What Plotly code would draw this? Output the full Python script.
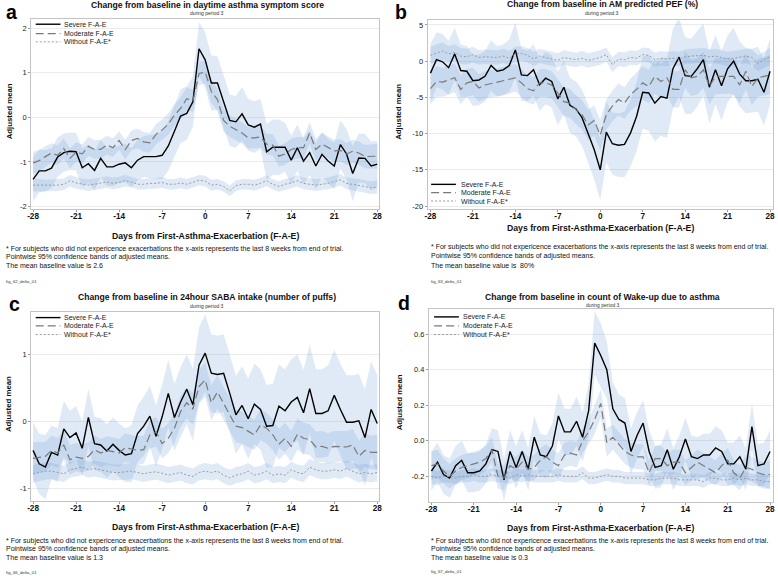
import plotly.graph_objects as go

W, H = 778, 578

# ---------------- data ----------------
days = list(range(-28, 29))
x_tick_vals = [-28, -21, -14, -7, 0, 7, 14, 21, 28]
x_tick_labels = ["-28", "-21", "-14", "-7", "0", "7", "14", "21", "28"]
series_names = ["Severe F-A-E", "Moderate F-A-E", "Without F-A-E*"]

# panel a: daytime asthma symptom score
a_severe = [-1.39, -1.20, -1.20, -1.14, -0.89, -0.79, -0.76, -0.77, -1.13, -1.04,
            -1.19, -0.92, -1.11, -1.11, -1.05, -1.02, -1.13, -0.96, -0.88, -0.88,
            -0.88, -0.85, -0.64, -0.31, 0.03, 0.09, 0.35, 1.54,
            1.29,
            0.77, 0.77, 0.35, -0.07, -0.10, 0.08, -0.17, -0.22, -0.15, -0.77,
            -0.67, -0.67, -0.67, -0.96, -0.68, -0.98, -0.79, -1.09, -0.83, -0.98,
            -1.09, -0.61, -0.82, -1.26, -0.91, -0.92, -1.09, -1.05]
a_moderate = [-1.02, -0.97, -0.88, -0.80, -0.85, -0.70, -0.92, -0.78, -0.82, -0.65,
              -0.72, -0.72, -0.62, -0.68, -0.52, -0.72, -0.52, -0.47, -0.55, -0.57,
              -0.38, -0.28, -0.15, 0.05, 0.20, 0.42, 0.37, 0.98,
              1.02,
              0.58, 0.40, -0.07, -0.20, -0.27, -0.35, -0.46, -0.46, -0.44, -0.60,
              -0.62, -0.87, -0.82, -0.72, -0.68, -0.68, -0.35, -0.72, -0.60, -0.68,
              -0.75, -0.74, -0.82, -0.76, -0.80, -0.88, -0.88, -0.87]
a_without = [-1.52, -1.52, -1.53, -1.52, -1.52, -1.50, -1.42, -1.47, -1.50, -1.52,
             -1.50, -1.48, -1.45, -1.48, -1.46, -1.42, -1.45, -1.50, -1.50, -1.48,
             -1.48, -1.46, -1.50, -1.50, -1.47, -1.50, -1.46, -1.41,
             -1.43,
             -1.52, -1.50, -1.55, -1.65, -1.53, -1.50, -1.50, -1.52, -1.48, -1.42,
             -1.50, -1.55, -1.50, -1.47, -1.42, -1.48, -1.50, -1.52, -1.50, -1.48,
             -1.44, -1.40, -1.48, -1.50, -1.52, -1.55, -1.58, -1.56]
a_severe_hw = [0.50, 0.48, 0.46, 0.45, 0.44, 0.43, 0.42, 0.42, 0.44, 0.43,
               0.44, 0.42, 0.43, 0.43, 0.42, 0.43, 0.44, 0.45, 0.46, 0.48,
               0.50, 0.54, 0.56, 0.58, 0.60, 0.60, 0.56, 0.60,
               0.62,
               0.62, 0.60, 0.60, 0.58, 0.58, 0.60, 0.58, 0.58, 0.56, 0.62,
               0.62, 0.62, 0.55, 0.55, 0.52, 0.52, 0.50, 0.52, 0.50, 0.50,
               0.52, 0.54, 0.56, 0.62, 0.55, 0.55, 0.55, 0.52]
a_moderate_hw = [0.25, 0.24, 0.23, 0.22, 0.22, 0.22, 0.22, 0.22, 0.21, 0.21,
                 0.21, 0.21, 0.21, 0.21, 0.21, 0.22, 0.22, 0.22, 0.22, 0.22,
                 0.23, 0.23, 0.24, 0.24, 0.25, 0.25, 0.25, 0.26,
                 0.26,
                 0.26, 0.25, 0.25, 0.24, 0.24, 0.24, 0.24, 0.24, 0.24, 0.24,
                 0.24, 0.24, 0.24, 0.24, 0.24, 0.24, 0.24, 0.24, 0.25, 0.25,
                 0.25, 0.25, 0.25, 0.26, 0.26, 0.26, 0.27, 0.28]
a_without_hw = [0.14, 0.14, 0.13, 0.13, 0.13, 0.13, 0.13, 0.13, 0.13, 0.13,
                0.13, 0.13, 0.13, 0.13, 0.13, 0.13, 0.12, 0.12, 0.12, 0.12,
                0.12, 0.12, 0.12, 0.12, 0.12, 0.12, 0.12, 0.12,
                0.12,
                0.12, 0.12, 0.12, 0.12, 0.12, 0.12, 0.12, 0.12, 0.12, 0.12,
                0.12, 0.12, 0.12, 0.12, 0.13, 0.13, 0.13, 0.13, 0.13, 0.13,
                0.13, 0.13, 0.13, 0.14, 0.14, 0.14, 0.14, 0.15]

# panel b: AM predicted PEF (%)
b_severe = [-1.65, 0.2, -0.1, -0.9, 1.0, -1.3, -1.4, -2.7, -2.6, -2.1,
            -0.6, -1.4, -1.2, -0.6, 1.55, -1.9, -2.0, -1.2, -3.25, -2.35,
            -2.8, -5.2, -3.6, -6.1, -6.6, -7.8, -10.0, -12.2,
            -15.0,
            -9.8, -11.4, -11.6, -11.5, -9.9, -7.6, -4.3, -4.4, -5.8, -4.9,
            -5.1, -1.0, 0.55, -2.0, -2.1, -1.05, 0.2, -3.6, -1.2, -3.4,
            -1.05, 0.0, -1.8, -2.7, -2.7, -2.5, -4.3, -1.4]
b_moderate = [-3.8, -2.8, -2.9, -2.6, -2.3, -3.9, -3.0, -2.8, -3.7, -3.3,
              -3.1, -2.9, -2.8, -2.6, -2.3, -3.0, -3.8, -4.1, -3.0, -3.0,
              -3.3, -4.4, -5.6, -5.8, -6.7, -7.4, -8.8, -8.2,
              -10.2,
              -7.4, -6.2, -5.3, -5.8, -4.6, -3.9, -3.0, -3.5, -2.1, -2.8,
              -2.3, -3.9, -3.9, -1.2, -2.3, -2.1, -1.2, -3.5, -2.1, -2.1,
              -2.0, -2.1, -3.3, -1.4, -3.5, -2.3, -2.1, -1.9]
b_without = [0.8, 1.1, 1.4, 1.0, 1.2, 0.7, 0.6, 0.9, 0.5, 0.6,
             0.6, 0.5, 0.7, 0.4, 1.0, 1.1, 0.8, 0.3, 0.7, 0.5,
             0.4, 0.1, 0.5, 0.3, 0.2, 0.4, 0.1, 0.3,
             0.5,
             0.9, -0.5, 0.3, 0.2, 0.5, 0.4, 0.9, 0.8, 0.2, 0.4,
             0.3, 0.4, 0.3, 0.6, 0.7, 0.7, 0.8, 0.6, 0.7, 0.5,
             0.3, 0.4, 0.5, 0.7, 0.5, -0.3, 0.2, 0.6]
b_severe_hw = [4.0, 3.8, 3.8, 3.7, 3.6, 3.6, 3.5, 3.5, 3.5, 3.5,
               3.5, 3.5, 3.5, 3.6, 3.8, 3.6, 3.5, 3.5, 3.6, 3.6,
               3.6, 3.7, 3.7, 3.8, 3.8, 3.9, 4.0, 4.1,
               4.2,
               4.2, 4.3, 4.4, 4.5, 4.6, 4.8, 5.0, 5.2, 5.3, 5.4,
               5.5, 5.5, 5.4, 5.3, 5.2, 5.2, 5.0, 5.0, 4.8, 4.8,
               4.6, 4.6, 4.5, 4.5, 4.4, 4.5, 4.6, 4.6]
b_moderate_hw = [2.2, 2.1, 2.0, 2.0, 2.0, 2.0, 1.9, 1.9, 1.9, 1.9,
                 1.9, 1.9, 1.9, 1.9, 1.9, 1.9, 1.9, 1.9, 1.9, 1.9,
                 1.9, 1.9, 2.0, 2.0, 2.0, 2.0, 2.1, 2.1,
                 2.1,
                 2.1, 2.1, 2.2, 2.2, 2.2, 2.3, 2.3, 2.3, 2.4, 2.4,
                 2.4, 2.5, 2.5, 2.5, 2.5, 2.5, 2.5, 2.5, 2.5, 2.5,
                 2.5, 2.5, 2.5, 2.5, 2.6, 2.6, 2.6, 2.7]
b_without_hw = [1.2, 1.2, 1.2, 1.1, 1.1, 1.1, 1.1, 1.1, 1.0, 1.0,
                1.0, 1.0, 1.0, 1.0, 1.0, 1.0, 1.0, 1.0, 1.0, 1.0,
                1.0, 1.0, 1.0, 1.0, 1.0, 1.0, 1.0, 1.0,
                1.0,
                1.0, 1.0, 1.0, 1.0, 1.0, 1.0, 1.0, 1.0, 1.0, 1.0,
                1.0, 1.0, 1.0, 1.0, 1.0, 1.0, 1.0, 1.0, 1.0, 1.0,
                1.0, 1.0, 1.0, 1.0, 1.1, 1.1, 1.1, 1.2]

# panel c: 24hour SABA intake
c_severe = [-0.43, -0.63, -0.68, -0.46, -0.50, -0.11, -0.24, -0.17, -0.40, 0.06,
            -0.33, -0.35, -0.44, -0.34, -0.43, -0.50, -0.48, -0.18, -0.07, 0.08,
            -0.22, 0.07, 0.42, 0.06, 0.29, 0.48, 0.25, 0.84,
            1.02,
            0.72, 0.70, 0.72, 0.42, 0.10, 0.24, 0.04, 0.26, 0.18, -0.07,
            -0.06, 0.23, 0.16, 0.29, 0.36, 0.13, 0.49, 0.12, 0.12, 0.16,
            0.39, 0.18, -0.01, -0.01, 0.01, -0.24, 0.18, -0.03]
c_moderate = [-0.55, -0.53, -0.52, -0.43, -0.47, -0.35, -0.57, -0.53, -0.55, -0.52,
              -0.42, -0.47, -0.43, -0.45, -0.47, -0.39, -0.41, -0.43, -0.42, -0.20,
              -0.15, -0.33, -0.25, -0.10, 0.15, 0.28, 0.19, 0.52,
              0.62,
              0.28, 0.44, 0.27, 0.09, -0.07, -0.09, -0.15, -0.20, -0.05, -0.10,
              -0.20, -0.34, -0.25, -0.37, -0.19, -0.25, -0.27, -0.38, -0.37, -0.40,
              -0.37, -0.37, -0.38, -0.35, -0.52, -0.43, -0.46, -0.46]
c_without = [-0.78, -0.76, -0.74, -0.74, -0.76, -0.78, -0.72, -0.70, -0.68, -0.72,
             -0.70, -0.72, -0.74, -0.76, -0.76, -0.75, -0.74, -0.76, -0.78, -0.76,
             -0.75, -0.77, -0.80, -0.78, -0.76, -0.80, -0.82, -0.76,
             -0.74,
             -0.76, -0.74, -0.80, -0.84, -0.80, -0.78, -0.74, -0.80, -0.78, -0.74,
             -0.80, -0.78, -0.80, -0.72, -0.76, -0.78, -0.68, -0.72, -0.74, -0.74,
             -0.72, -0.74, -0.70, -0.74, -0.78, -0.76, -0.78, -0.76]
c_severe_hw = [0.42, 0.45, 0.48, 0.40, 0.40, 0.42, 0.40, 0.40, 0.40, 0.42,
               0.40, 0.40, 0.40, 0.40, 0.40, 0.40, 0.42, 0.42, 0.44, 0.45,
               0.46, 0.48, 0.50, 0.50, 0.52, 0.52, 0.54, 0.56,
               0.58,
               0.58, 0.58, 0.58, 0.58, 0.58, 0.58, 0.60, 0.60, 0.60, 0.62,
               0.62, 0.62, 0.62, 0.64, 0.64, 0.64, 0.66, 0.66, 0.66, 0.68,
               0.68, 0.68, 0.70, 0.70, 0.70, 0.72, 0.72, 0.72]
c_moderate_hw = [0.24, 0.23, 0.22, 0.22, 0.22, 0.22, 0.22, 0.21, 0.21, 0.21,
                 0.21, 0.21, 0.21, 0.21, 0.21, 0.21, 0.21, 0.21, 0.21, 0.21,
                 0.22, 0.22, 0.22, 0.22, 0.23, 0.23, 0.24, 0.25,
                 0.26,
                 0.26, 0.25, 0.25, 0.24, 0.24, 0.24, 0.23, 0.23, 0.23, 0.23,
                 0.23, 0.23, 0.23, 0.23, 0.23, 0.23, 0.23, 0.23, 0.23, 0.23,
                 0.23, 0.23, 0.24, 0.24, 0.24, 0.25, 0.25, 0.26]
c_without_hw = [0.13, 0.13, 0.13, 0.12, 0.12, 0.12, 0.12, 0.12, 0.12, 0.12,
                0.12, 0.12, 0.12, 0.12, 0.12, 0.12, 0.12, 0.12, 0.12, 0.12,
                0.12, 0.12, 0.12, 0.12, 0.12, 0.12, 0.12, 0.12,
                0.12,
                0.12, 0.12, 0.12, 0.12, 0.12, 0.12, 0.12, 0.12, 0.12, 0.12,
                0.12, 0.12, 0.12, 0.12, 0.12, 0.12, 0.12, 0.12, 0.12, 0.12,
                0.12, 0.12, 0.12, 0.12, 0.13, 0.13, 0.13, 0.13]

# panel d: wake-up due to asthma
d_severe = [-0.17, -0.12, -0.19, -0.21, -0.14, -0.11, -0.18, -0.18, -0.17, -0.13,
            -0.05, -0.06, -0.22, -0.06, -0.15, -0.06, -0.16, 0.02, -0.08, -0.09,
            -0.03, 0.14, 0.05, 0.05, 0.11, 0.02, 0.17, 0.55,
            0.48,
            0.40, 0.18, 0.12, 0.10, -0.06, 0.03, 0.10, -0.06, -0.15, -0.14,
            -0.05, -0.16, -0.09, 0.01, -0.09, -0.10, -0.08, -0.08, -0.04, -0.06,
            -0.13, -0.13, -0.09, -0.16, 0.08, -0.14, -0.13, -0.06]
d_moderate = [-0.14, -0.13, -0.17, -0.20, -0.17, -0.15, -0.14, -0.13, -0.12, -0.10,
              -0.05, -0.20, -0.21, -0.14, -0.16, -0.12, -0.16, -0.15, -0.11, -0.09,
              -0.12, -0.14, -0.08, -0.07, -0.08, 0.00, 0.05, 0.12,
              0.21,
              -0.01, 0.02, -0.02, -0.06, -0.08, -0.09, -0.09, -0.18, -0.10, -0.10,
              -0.14, -0.12, -0.12, -0.18, -0.15, -0.12, -0.14, -0.16, -0.18, -0.14,
              -0.11, -0.18, -0.21, -0.15, -0.16, -0.18, -0.19, -0.19]
d_without = [-0.20, -0.21, -0.20, -0.20, -0.21, -0.20, -0.20, -0.19, -0.20, -0.20,
             -0.19, -0.20, -0.20, -0.21, -0.19, -0.20, -0.19, -0.20, -0.20, -0.20,
             -0.20, -0.19, -0.20, -0.20, -0.20, -0.18, -0.21, -0.21,
             -0.20,
             -0.19, -0.20, -0.20, -0.21, -0.21, -0.21, -0.21, -0.22, -0.22, -0.21,
             -0.21, -0.21, -0.22, -0.22, -0.22, -0.22, -0.23, -0.21, -0.21, -0.22,
             -0.22, -0.21, -0.22, -0.21, -0.22, -0.22, -0.23, -0.23]
d_severe_hw = [0.11, 0.11, 0.11, 0.11, 0.11, 0.11, 0.11, 0.11, 0.11, 0.11,
               0.12, 0.12, 0.12, 0.12, 0.12, 0.12, 0.12, 0.12, 0.12, 0.12,
               0.13, 0.13, 0.13, 0.13, 0.14, 0.14, 0.15, 0.18,
               0.18,
               0.16, 0.15, 0.14, 0.14, 0.13, 0.13, 0.13, 0.12, 0.12, 0.12,
               0.12, 0.12, 0.12, 0.12, 0.12, 0.12, 0.12, 0.12, 0.12, 0.12,
               0.12, 0.12, 0.12, 0.12, 0.13, 0.12, 0.12, 0.12]
d_moderate_hw = [0.08, 0.08, 0.07, 0.07, 0.07, 0.07, 0.07, 0.07, 0.07, 0.07,
                 0.07, 0.07, 0.07, 0.07, 0.07, 0.07, 0.07, 0.07, 0.07, 0.07,
                 0.07, 0.07, 0.07, 0.07, 0.07, 0.07, 0.07, 0.08,
                 0.08,
                 0.08, 0.07, 0.07, 0.07, 0.07, 0.07, 0.07, 0.07, 0.07, 0.07,
                 0.07, 0.07, 0.07, 0.07, 0.07, 0.07, 0.07, 0.07, 0.07, 0.07,
                 0.07, 0.07, 0.07, 0.07, 0.07, 0.07, 0.07, 0.08]
d_without_hw = [0.04, 0.04, 0.035, 0.035, 0.035, 0.035, 0.035, 0.035, 0.035, 0.035,
                0.035, 0.035, 0.035, 0.035, 0.035, 0.035, 0.035, 0.035, 0.035, 0.035,
                0.035, 0.035, 0.035, 0.035, 0.035, 0.035, 0.035, 0.035,
                0.035,
                0.035, 0.035, 0.035, 0.035, 0.035, 0.035, 0.035, 0.035, 0.035, 0.035,
                0.035, 0.035, 0.035, 0.035, 0.035, 0.035, 0.035, 0.035, 0.035, 0.035,
                0.035, 0.035, 0.035, 0.035, 0.035, 0.035, 0.04, 0.04]

a_y_ticks = [-2, -1, 0, 1, 2]
b_y_ticks = [-20, -15, -10, -5, 0, 5]
c_y_ticks = [-1, 0, 1]
d_y_ticks = [-0.2, 0.0, 0.2, 0.4, 0.6]
d_y_tick_labels = ["-0.2", "0.0", "0.2", "0.4", "0.6"]

titles = ["Change from baseline in daytime asthma symptom score",
          "Change from baseline in AM predicted PEF (%)",
          "Change from baseline in 24hour SABA intake (number of puffs)",
          "Change from baseline in count of Wake-up due to asthma"]
subtitle = "during period 3"
x_title = "Days from First-Asthma-Exacerbation (F-A-E)"
y_title = "Adjusted mean"
note1 = "* For subjects who did not expericence exacerbations the x-axis represents the last 8 weeks from end of trial."
note2 = "Pointwise 95% confidence bands of adjusted means."
baseline_notes = ["The mean baseline value is 2.6", "The mean baseline value is  80%",
                  "The mean baseline value is 1.3", "The mean baseline value is 0.3"]
fig_ids = ["fig_62_delta_01", "fig_63_delta_01", "fig_66_delta_01", "fig_67_delta_01"]
letters = ["a", "b", "c", "d"]

for arr in [a_severe, a_moderate, a_without, a_severe_hw, a_moderate_hw, a_without_hw,
            b_severe, b_moderate, b_without, b_severe_hw, b_moderate_hw, b_without_hw,
            c_severe, c_moderate, c_without, c_severe_hw, c_moderate_hw, c_without_hw,
            d_severe, d_moderate, d_without, d_severe_hw, d_moderate_hw, d_without_hw]:
    assert len(arr) == len(days), len(arr)

# ---------------- layout (pixel geometry) ----------------
FONT = "Liberation Sans, Arial, sans-serif"
BAND = "rgba(100,150,210,0.2)"
LINE_STYLES = [dict(color="#000000", width=1.4, dash="solid"),
               dict(color="#7a7a7a", width=1.2, dash="8px,4px"),
               dict(color="#9a9a9a", width=1.0, dash="2px,2px")]

panels = [
    dict(means=[a_severe, a_moderate, a_without], hws=[a_severe_hw, a_moderate_hw, a_without_hw],
         yticks=a_y_ticks, ytext=[str(v) for v in a_y_ticks],
         box=(27.4, 19.0, 378.6, 209.5), xr=[-28.31, 28.31], yr=[-2.05, 2.208],
         title_y=5.5, sub_y=13.0, xt_y=236.5, notes_y=[249.5, 258.3, 266.8], fig_y=282,
         note_x=1, ytitle_x=5.5, letter=(1.5, 0.0, "top"),
         legend=dict(x0=32, x1=57, ys=[24.3, 33.7, 42.0], tx=60)),
    dict(means=[b_severe, b_moderate, b_without], hws=[b_severe_hw, b_moderate_hw, b_without_hw],
         yticks=b_y_ticks, ytext=[str(v) for v in b_y_ticks],
         box=(427.5, 20.5, 775.5, 210.0), xr=[-28.46, 28.41], yr=[-20.45, 5.62],
         title_y=4.5, sub_y=12.8, xt_y=228.5, notes_y=[247.5, 257.0, 266.7], fig_y=282.5,
         note_x=429.5, ytitle_x=398.5, letter=(394, 0.0, "top"),
         legend=dict(x0=431, x1=456, ys=[185.0, 193.3, 201.7], tx=460)),
    dict(means=[c_severe, c_moderate, c_without], hws=[c_severe_hw, c_moderate_hw, c_without_hw],
         yticks=c_y_ticks, ytext=[str(v) for v in c_y_ticks],
         box=(27.4, 313.0, 378.6, 503.0), xr=[-28.31, 28.31], yr=[-1.189, 1.634],
         title_y=298, sub_y=307, xt_y=529, notes_y=[543.0, 551.3, 559.7], fig_y=574,
         note_x=1, ytitle_x=4.5, letter=(4.5, 304.6, "middle"),
         legend=dict(x0=32, x1=57, ys=[318.7, 327.0, 335.7], tx=60)),
    dict(means=[d_severe, d_moderate, d_without], hws=[d_severe_hw, d_moderate_hw, d_without_hw],
         yticks=d_y_ticks, ytext=d_y_tick_labels,
         box=(428.7, 309.7, 776.0, 504.0), xr=[-28.43, 28.49], yr=[-0.346, 0.744],
         title_y=298, sub_y=306.5, xt_y=530, notes_y=[543.0, 551.3, 559.7], fig_y=573.5,
         note_x=429.5, ytitle_x=399.5, letter=(397, 303.6, "middle"),
         legend=dict(x0=434, x1=459, ys=[318.0, 327.0, 335.7], tx=462)),
]


def fx(px):
    return px / W


def fy(py):
    return 1 - py / H


fig = go.Figure()
annotations = []
shapes = []
layout_axes = {}


def txt(x, y, s, size, bold=False, xanchor="left", angle=0, color="#111", yanchor="middle"):
    annotations.append(dict(
        x=fx(x), y=fy(y), xref="paper", yref="paper", showarrow=False,
        text="<b>%s</b>" % s if bold else s, textangle=angle,
        xanchor=xanchor, yanchor=yanchor, borderpad=0,
        font=dict(family=FONT, size=size, color=color)))


for i, p in enumerate(panels):
    n = "" if i == 0 else str(i + 1)
    xref, yref = "x" + n, "y" + n
    x0, y0, x1, y1 = p["box"]

    # confidence bands
    for mean, hw in zip(p["means"], p["hws"]):
        upper = [m + h for m, h in zip(mean, hw)]
        lower = [m - h for m, h in zip(mean, hw)]
        fig.add_trace(go.Scatter(x=days + days[::-1], y=upper + lower[::-1],
                                 fill="toself", fillcolor=BAND, mode="lines",
                                 line=dict(width=0), hoverinfo="skip", showlegend=False,
                                 xaxis=xref, yaxis=yref))
    # mean lines
    for mean, name, st in zip(p["means"], series_names, LINE_STYLES):
        fig.add_trace(go.Scatter(x=days, y=mean, mode="lines", name=name, line=st,
                                 showlegend=False, xaxis=xref, yaxis=yref))

    layout_axes["xaxis" + n] = dict(
        domain=[fx(x0), fx(x1)], range=p["xr"], anchor=yref,
        tickmode="array", tickvals=x_tick_vals,
        ticktext=["<b>%s</b>" % t for t in x_tick_labels],
        ticks="outside", ticklen=2, tickcolor="#9a9a9a", tickwidth=1,
        ticklabelstandoff=-3, ticklabeloverflow="allow",
        showline=True, linecolor="#c4c4c4", linewidth=1, mirror=True,
        showgrid=False, zeroline=False,
        tickfont=dict(family=FONT, size=8.2, color="#111"))
    layout_axes["yaxis" + n] = dict(
        domain=[fy(y1), fy(y0)], range=p["yr"], anchor=xref,
        tickmode="array", tickvals=p["yticks"], ticktext=p["ytext"],
        ticks="outside", ticklen=2, tickcolor="#9a9a9a", tickwidth=1,
        ticklabeloverflow="allow",
        showline=True, linecolor="#c4c4c4", linewidth=1, mirror=True,
        showgrid=True, gridcolor="#ebebeb", gridwidth=1, zeroline=False,
        tickfont=dict(family=FONT, size=7.5, color="#222"))

    cx = (x0 + x1) / 2
    txt(cx + 2, p["title_y"], titles[i], 8.6, bold=True, xanchor="center")
    txt(cx + 2, p["sub_y"], subtitle, 5, xanchor="center", color="#333")
    txt(cx, p["xt_y"], x_title, 8.7, bold=True, xanchor="center")
    txt(p["ytitle_x"], (y0 + y1) / 2 - 3, y_title, 7.8, bold=True, xanchor="center", angle=-90)
    for ny, s in zip(p["notes_y"], [note1, note2, baseline_notes[i]]):
        txt(p["note_x"], ny, s, 7.0)
    txt(p["note_x"], p["fig_y"], fig_ids[i], 4.3, color="#333")
    lx, ly, lanchor = p["letter"]
    txt(lx, ly, letters[i], 19.5, bold=True, color="#000", yanchor=lanchor)

    lg = p["legend"]
    for name, st, ly2 in zip(series_names, LINE_STYLES, lg["ys"]):
        shapes.append(dict(type="line", xref="paper", yref="paper",
                           x0=fx(lg["x0"]), x1=fx(lg["x1"]), y0=fy(ly2), y1=fy(ly2),
                           line=dict(color=st["color"], width=st["width"], dash=st["dash"])))
        txt(lg["tx"], ly2, name, 7.0, color="#222")

fig.update_layout(
    width=W, height=H, margin=dict(l=0, r=0, t=0, b=0),
    paper_bgcolor="white", plot_bgcolor="white",
    showlegend=False, annotations=annotations, shapes=shapes,
    font=dict(family=FONT),
    **layout_axes)

fig.write_html("out.html", config={"displayModeBar": False},
               post_script="document.body.style.margin='0';document.body.style.overflow='hidden';")
